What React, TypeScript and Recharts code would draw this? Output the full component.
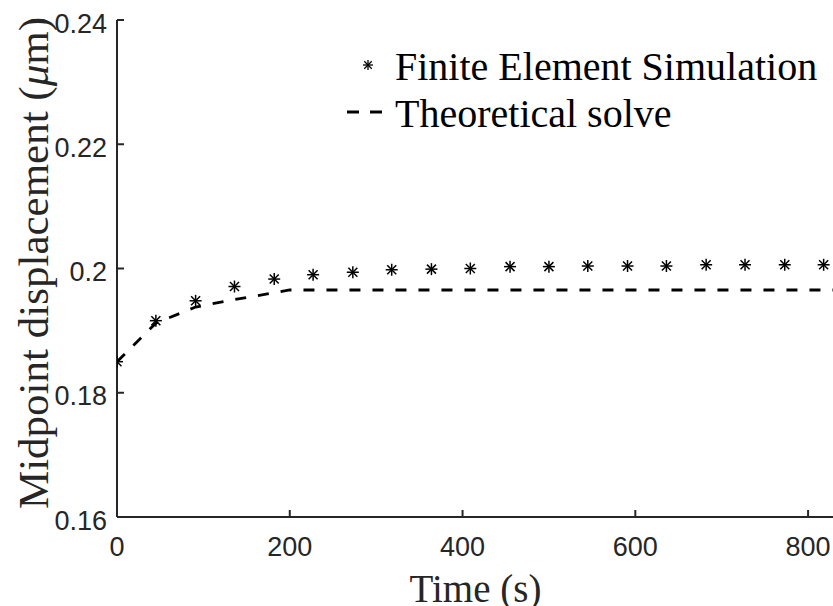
import React from "react"
import { ComposedChart, Line, Scatter, XAxis, YAxis, Legend } from "recharts"

// Finite element simulation samples (asterisks)
const feTime = [0, 45, 91, 136, 182, 227, 273, 318, 364, 409, 455, 500, 545, 591, 636, 682, 727, 773, 818]
const feDisp = [
  0.185, 0.1916, 0.1948, 0.1971, 0.1983, 0.199, 0.1994, 0.1998, 0.1999, 0.2, 0.2003, 0.2003, 0.2004, 0.2004,
  0.2004, 0.2006, 0.2006, 0.2006, 0.2006,
]

// Theoretical solution (dashed)
const theoryTime = [0, 45, 91, 136, 182, 200, 830]
const theoryDisp = [0.185, 0.1912, 0.1938, 0.195, 0.1961, 0.19654, 0.19654]

const xTicks = [0, 200, 400, 600, 800]
const xTopTicks = [200, 400, 600, 800]
const yTicks = [0.16, 0.18, 0.2, 0.22, 0.24]

const seriesNames = ["Finite Element Simulation", "Theoretical solve"]

const feData = feTime.map((t, i) => ({ t, v: feDisp[i] }))
const theoryData = theoryTime.map((t, i) => ({ t, v: theoryDisp[i] }))

const AXIS = "#262626"
const SERIF = "'Liberation Serif', 'Times New Roman', serif"
const SANS = "'Liberation Sans', Arial, Helvetica, sans-serif"

function drawStar(cx: number, cy: number, arm: number, lw: number) {
  const d = arm * 0.75
  return (
    <g stroke="#000" strokeWidth={lw}>
      <line x1={cx} y1={cy - arm} x2={cx} y2={cy + arm} />
      <line x1={cx - arm} y1={cy} x2={cx + arm} y2={cy} />
      <line x1={cx - d} y1={cy - d} x2={cx + d} y2={cy + d} />
      <line x1={cx - d} y1={cy + d} x2={cx + d} y2={cy - d} />
    </g>
  )
}

function StarShape(props: any) {
  return drawStar(props.cx, props.cy, 6, 1.5)
}

function LegendBox() {
  return (
    <svg width={480} height={110} style={{ display: "block", overflow: "visible" }}>
      {drawStar(28, 35, 5, 1.3)}
      <text x={55} y={50} fontFamily={SERIF} fontSize={40} fill="#000">
        {seriesNames[0]}
      </text>
      <line x1={7} y1={82} x2={42} y2={82} stroke="#000" strokeWidth={2.8} strokeDasharray="12 11" />
      <text x={55} y={97} fontFamily={SERIF} fontSize={40} fill="#000">
        {seriesNames[1]}
      </text>
    </svg>
  )
}

function YLabel() {
  const cx = 48
  const cy = 263
  return (
    <text
      x={cx}
      y={cy}
      transform={`rotate(-90, ${cx}, ${cy})`}
      textAnchor="middle"
      fontFamily={SERIF}
      fontSize={43}
      fill={AXIS}
    >
      Midpoint displacement (<tspan fontStyle="italic">μ</tspan>m)
    </text>
  )
}

function XLabel({ viewBox }: any) {
  const cx = viewBox ? viewBox.x + viewBox.width / 2 : 475
  return (
    <text x={cx} y={602} textAnchor="middle" fontFamily={SERIF} fontSize={39} fill={AXIS}>
      Time (s)
    </text>
  )
}

export default function App() {
  return (
    <div style={{ position: "absolute", left: 0, top: 0, width: 833, height: 606, overflow: "hidden", background: "#fff" }}>
      <ComposedChart width={835} height={606} margin={{ top: 20, right: 1, bottom: 0, left: 0 }}>
        <XAxis
          xAxisId="bottom"
          dataKey="t"
          type="number"
          domain={[0, 830]}
          ticks={xTicks}
          allowDataOverflow
          height={89}
          tickSize={-7}
          tickMargin={27}
          stroke={AXIS}
          strokeWidth={2}
          tick={{ fill: AXIS, fontSize: 27, fontFamily: SANS }}
          label={<XLabel />}
        />
        <XAxis
          xAxisId="top"
          orientation="top"
          dataKey="t"
          type="number"
          domain={[0, 830]}
          ticks={xTopTicks}
          allowDataOverflow
          height={0}
          mirror
          tickSize={7}
          tick={false}
          stroke={AXIS}
          strokeWidth={2}
        />
        <YAxis
          yAxisId="left"
          dataKey="v"
          type="number"
          domain={[0.16, 0.24]}
          ticks={yTicks}
          allowDataOverflow
          width={117}
          tickSize={-7}
          tickMargin={17}
          stroke={AXIS}
          strokeWidth={2}
          tick={{ fill: AXIS, fontSize: 27, fontFamily: SANS, dy: 3 }}
          label={<YLabel />}
        />
        <YAxis
          yAxisId="right"
          orientation="right"
          dataKey="v"
          type="number"
          domain={[0.16, 0.24]}
          ticks={yTicks}
          allowDataOverflow
          width={0}
          mirror
          tickSize={7}
          tick={false}
          stroke={AXIS}
          strokeWidth={2}
        />
        <Legend
          layout="horizontal"
          verticalAlign="middle"
          align="center"
          wrapperStyle={{ position: "absolute", top: 30, left: 340, width: 480, height: 110 }}
          content={() => <LegendBox />}
        />
        <Line
          xAxisId="bottom"
          yAxisId="left"
          data={theoryData}
          dataKey="v"
          name={seriesNames[1]}
          type="linear"
          stroke="#000"
          strokeWidth={2.8}
          strokeDasharray="11 12"
          dot={false}
          activeDot={false}
          isAnimationActive={false}
        />
        <Scatter
          xAxisId="bottom"
          yAxisId="left"
          data={feData}
          dataKey="v"
          name={seriesNames[0]}
          shape={StarShape}
          isAnimationActive={false}
        />
      </ComposedChart>
    </div>
  )
}
